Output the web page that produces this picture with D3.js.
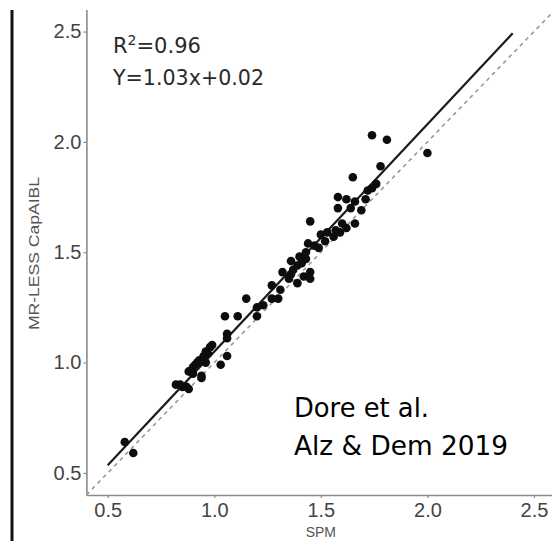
<!DOCTYPE html>
<html>
<head>
<meta charset="utf-8">
<script src="https://cdn.jsdelivr.net/npm/d3@7"></script>
<style>
  html, body { margin: 0; padding: 0; background: #fff; }
  svg { display: block; }
</style>
</head>
<body>
<svg id="chart" width="552" height="541"></svg>
<script>
// SPM vs MR-LESS CapAIBL SUVR values, one pair per subject
const spmValues = [
  0.58, 0.62,
  0.82, 0.84, 0.85, 0.87, 0.88, 0.88, 0.90, 0.90, 0.91, 0.93, 0.94, 0.94,
  0.95, 0.96, 0.97, 0.98, 0.99, 0.96, 0.92, 1.03, 1.06, 1.06, 1.06, 1.05,
  1.11, 1.20, 1.15, 1.20, 1.23,
  1.27, 1.30, 1.27, 1.31, 1.32, 1.36, 1.36, 1.39, 1.39, 1.40, 1.43, 1.43,
  1.45, 1.45, 1.44, 1.47, 1.45, 1.50, 1.53, 1.49, 1.42, 1.35, 1.41, 1.37,
  1.56, 1.59, 1.60, 1.66, 1.58, 1.64, 1.69, 1.58, 1.62, 1.66, 1.71, 1.72,
  1.74, 1.76, 1.65, 1.78, 1.74, 1.81, 2.00, 1.52, 1.62, 1.57
];
const caphaiblValues = [
  0.64, 0.59,
  0.90, 0.90, 0.89, 0.89, 0.88, 0.96, 0.95, 0.98, 0.99, 1.01, 0.94, 0.93,
  1.03, 1.05, 1.04, 1.07, 1.08, 1.00, 1.00, 0.99, 1.03, 1.11, 1.13, 1.21,
  1.21, 1.21, 1.29, 1.25, 1.26,
  1.29, 1.29, 1.35, 1.33, 1.41, 1.40, 1.46, 1.44, 1.36, 1.48, 1.47, 1.50,
  1.41, 1.38, 1.54, 1.53, 1.64, 1.58, 1.59, 1.52, 1.39, 1.38, 1.45, 1.42,
  1.57, 1.59, 1.63, 1.63, 1.70, 1.70, 1.69, 1.75, 1.74, 1.73, 1.74, 1.78,
  1.79, 1.81, 1.84, 1.89, 2.03, 2.01, 1.95, 1.55, 1.61, 1.60
];
const tickValues = [0.5, 1.0, 1.5, 2.0, 2.5];
const axisDomain = [0.4, 2.6];
// fitted regression Y = slope * x + intercept, drawn over the fitted range
const fitSlope = 1.03;
const fitIntercept = 0.02;
const fitRange = [0.5, 2.4];
const statLines = ["R2=0.96", "Y=1.03x+0.02"];
const citationLines = ["Dore et al.", "Alz & Dem 2019"];
const xTitle = "SPM";
const yTitle = "MR-LESS CapAIBL";

const points = spmValues.map((v, i) => ({ x: v, y: caphaiblValues[i] }));

const svg = d3.select("#chart");
const W = 552, H = 541;

const x = d3.scaleLinear().domain(axisDomain).range([86.4, 555.3]);
const y = d3.scaleLinear().domain(axisDomain).range([495, 9.5]);

svg.append("defs").append("clipPath").attr("id", "plotClip")
  .append("rect").attr("x", x(axisDomain[0])).attr("y", 0)
  .attr("width", W - x(axisDomain[0])).attr("height", y(axisDomain[0]));

// heavy separator rule on the far left
svg.append("line")
  .attr("x1", 12).attr("x2", 12).attr("y1", 10).attr("y2", H)
  .attr("stroke", "#111").attr("stroke-width", 3);

// axes
const styleAxis = g => {
  g.select(".domain").attr("stroke", "#8a8a8a").attr("stroke-width", 1.6);
  g.selectAll(".tick line").attr("stroke", "#8a8a8a").attr("stroke-width", 1.2);
  g.selectAll(".tick text")
    .attr("fill", "#444")
    .style("font-family", "'Liberation Sans', Arial, sans-serif")
    .style("font-size", "20px");
};

svg.append("g")
  .attr("transform", `translate(0,${y(axisDomain[0])})`)
  .call(d3.axisBottom(x).tickValues(tickValues).tickFormat(d3.format(".1f"))
    .tickSize(3).tickSizeOuter(0).tickPadding(5))
  .call(styleAxis);

svg.append("g")
  .attr("transform", `translate(${x(axisDomain[0])},0)`)
  .call(d3.axisLeft(y).tickValues(tickValues).tickFormat(d3.format(".1f"))
    .tickSize(3).tickSizeOuter(0).tickPadding(2))
  .call(styleAxis);

// axis titles
svg.append("text")
  .attr("x", x(1.5)).attr("y", 537)
  .attr("text-anchor", "middle")
  .attr("fill", "#555")
  .style("font-family", "'Liberation Sans', Arial, sans-serif")
  .style("font-size", "14px")
  .text(xTitle);

svg.append("text")
  .attr("transform", "translate(39,253.5) rotate(-90)")
  .attr("text-anchor", "middle")
  .attr("fill", "#555")
  .attr("textLength", 153)
  .attr("lengthAdjust", "spacingAndGlyphs")
  .style("font-family", "'Liberation Sans', Arial, sans-serif")
  .style("font-size", "15px")
  .text(yTitle);

const plot = svg.append("g").attr("clip-path", "url(#plotClip)");

// identity line
plot.append("line")
  .attr("x1", x(axisDomain[0])).attr("y1", y(axisDomain[0]))
  .attr("x2", x(axisDomain[1])).attr("y2", y(axisDomain[1]))
  .attr("stroke", "#999").attr("stroke-width", 1.6)
  .attr("stroke-dasharray", "4,4");

// regression line
const fitLine = d3.line().x(d => x(d)).y(d => y(fitSlope * d + fitIntercept));
plot.append("path")
  .datum(fitRange)
  .attr("d", fitLine)
  .attr("fill", "none")
  .attr("stroke", "#1a1a1a").attr("stroke-width", 2.2);

// subjects
plot.selectAll("circle.pt")
  .data(points)
  .join("circle")
  .attr("class", "pt")
  .attr("cx", d => x(d.x))
  .attr("cy", d => y(d.y))
  .attr("r", 4.3)
  .attr("fill", "#0d0d0d");

// fit statistics
const stats = svg.append("g")
  .style("font-family", "'DejaVu Sans', sans-serif")
  .style("font-size", "21px")
  .attr("fill", "#2a2a2a");
const r2 = stats.append("text").attr("x", 113).attr("y", 53);
r2.append("tspan").text(statLines[0].slice(0, 1));
r2.append("tspan").attr("dy", -8).style("font-size", "14px").text(statLines[0].slice(1, 2));
r2.append("tspan").attr("dy", 8).text(statLines[0].slice(2));
stats.append("text").attr("x", 113).attr("y", 85)
  .attr("textLength", 151).attr("lengthAdjust", "spacingAndGlyphs")
  .text(statLines[1]);

// citation
const cite = svg.append("g")
  .style("font-family", "'DejaVu Sans', sans-serif")
  .style("font-size", "27px")
  .attr("fill", "#000");
cite.append("text").attr("x", 294).attr("y", 417)
  .attr("textLength", 135).attr("lengthAdjust", "spacingAndGlyphs")
  .text(citationLines[0]);
cite.append("text").attr("x", 294).attr("y", 455)
  .attr("textLength", 214).attr("lengthAdjust", "spacingAndGlyphs")
  .text(citationLines[1]);
</script>
</body>
</html>
